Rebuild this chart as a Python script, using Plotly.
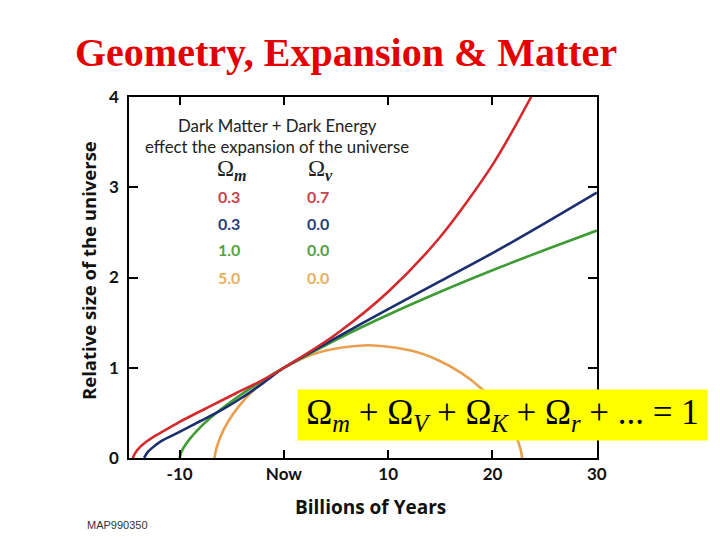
import plotly.graph_objects as go

# ---- data ----
red_t = [-14.5, -14.2, -13.8, -13.2, -12.5, -11.5, -10.0, -8.5, -7.0, -4.5, -2.0, 0.0, 5.0, 10.0, 15.0, 20.0, 23.7, 25.0]
red_a = [0.0, 0.065, 0.12, 0.18, 0.235, 0.30, 0.40, 0.49, 0.577, 0.723, 0.865, 1.0, 1.372, 1.842, 2.452, 3.248, 4.0, 4.30]

blue_t = [-13.4, -13.1, -12.6, -11.8, -10.0, -8.0, -6.0, -4.0, -2.0, 0.0, 5.0, 10.0, 15.0, 20.0, 25.0, 30.0]
blue_a = [0.0, 0.06, 0.115, 0.185, 0.29, 0.41, 0.53, 0.67, 0.83, 1.0, 1.33, 1.65, 1.96, 2.27, 2.60, 2.94]

green_t = [-10.0, -9.8, -9.5, -9.0, -8.0, -7.0, -6.0, -4.0, -2.0, 0.0, 5.0, 10.0, 15.0, 20.0, 25.0, 30.0]
green_a = [0.0, 0.074, 0.136, 0.215, 0.342, 0.448, 0.543, 0.711, 0.862, 1.0, 1.310, 1.587, 1.842, 2.080, 2.305, 2.520]

orange_t = [-6.63, -6.61, -6.46, -6.08, -5.37, -4.27, -2.76, -0.83, 1.45, 4.02, 8.10, 12.18, 14.75, 17.03, 18.96, 20.47, 21.57, 22.28, 22.66, 22.81, 22.83]
orange_a = [0.0, 0.028, 0.109, 0.2365, 0.3985, 0.581, 0.767, 0.9405, 1.086, 1.19, 1.25, 1.19, 1.086, 0.9405, 0.767, 0.581, 0.3985, 0.2365, 0.109, 0.028, 0.0]

x_tickvals = [-10, 0, 10, 20, 30]
x_ticktext = ["-10", "Now", "10", "20", "30"]
y_tickvals = [0, 1, 2, 3, 4]

omega_m = ["0.3", "0.3", "1.0", "5.0"]
omega_v = ["0.7", "0.0", "0.0", "0.0"]
text_colors = ["#c8424a", "#24407a", "#55a045", "#e8b060"]
line_colors = ["#d42a2e", "#1b2f6e", "#3f9c35", "#e8a050"]

# ---- layout geometry (pixels) ----
W, H = 720, 540
L, R, T, B = 129, 597, 97, 458


def P(xp, yp):
    return (xp - L) / (R - L), (B - yp) / (B - T)


fig = go.Figure()
series = [(orange_t, orange_a), (green_t, green_a), (blue_t, blue_a), (red_t, red_a)]
cols = [line_colors[3], line_colors[2], line_colors[1], line_colors[0]]
for (tt, aa), c in zip(series, cols):
    fig.add_trace(go.Scatter(x=tt, y=aa, mode="lines",
                             line=dict(color=c, width=2.6, shape="spline", smoothing=0.8),
                             showlegend=False, hoverinfo="skip"))

tick_font = dict(family="Lato", size=17, color="#111", weight="bold")
fig.update_xaxes(range=[-14.85, 30.02], tickvals=x_tickvals, ticktext=x_ticktext,
                 ticks="inside", ticklen=8, tickwidth=1.5, tickcolor="black",
                 showline=True, linecolor="black", linewidth=1.5, mirror="ticks",
                 showgrid=False, zeroline=False, tickfont=tick_font)
fig.update_yaxes(range=[0, 4], tickvals=y_tickvals,
                 ticks="inside", ticklen=9, tickwidth=1.5, tickcolor="black",
                 showline=True, linecolor="black", linewidth=1.5, mirror="ticks",
                 showgrid=False, zeroline=False, tickfont=tick_font,
                 ticklabelstandoff=5)

ann = []


def add(xp, yp, text, size, color="#222", family="Lato", **kw):
    x, y = P(xp, yp)
    d = dict(x=x, y=y, xref="paper", yref="paper", text=text, showarrow=False,
             font=dict(family=family, size=size, color=color),
             xanchor="center", yanchor="middle")
    d.update(kw)
    ann.append(d)


add(346, 52, "<b>Geometry, Expansion &amp; Matter</b>", 40, color="#e40000", family="Liberation Serif")
add(88, 271, "<b>Relative size of the universe</b>", 18.5, color="#111", family="Open Sans", textangle=-90)
add(370, 507, "<b>Billions of Years</b>", 19, color="#111", family="Open Sans")
add(277, 125, "Dark Matter + Dark Energy", 16.8, color="#222")
add(277, 146, "effect the expansion of the universe", 16.8, color="#222")
add(232, 170, "Ω<sub><b><i>m</i></b></sub>", 23, color="#222", family="Liberation Serif")
add(320, 170, "Ω<sub><b><i>v</i></b></sub>", 23, color="#222", family="Liberation Serif")
rows_y = [196, 223, 250, 277]
for vm, vv, c, yy in zip(omega_m, omega_v, text_colors, rows_y):
    add(229, yy, "<b>" + vm + "</b>", 16, color=c)
    add(318, yy, "<b>" + vv + "</b>", 16, color=c)

eq = ("Ω<sub><i>m</i></sub> + Ω<sub><i>V</i></sub> + Ω<sub><i>K</i></sub> + "
      "Ω<sub><i>r</i></sub> + ... = 1")
add(502, 415, eq, 35, color="#000", family="Liberation Serif",
    bgcolor="#ffff00", width=405, height=46, borderpad=2, align="center")
add(117, 525, "MAP990350", 11, color="#333", family="Liberation Sans")

fig.update_layout(width=W, height=H, autosize=False,
                  margin=dict(l=L, r=W - R, t=T, b=H - B, pad=0),
                  plot_bgcolor="white", paper_bgcolor="white",
                  annotations=ann)

fig.write_html("out.html", config={"displayModeBar": False},
               post_script="document.body.style.margin='0px';")
